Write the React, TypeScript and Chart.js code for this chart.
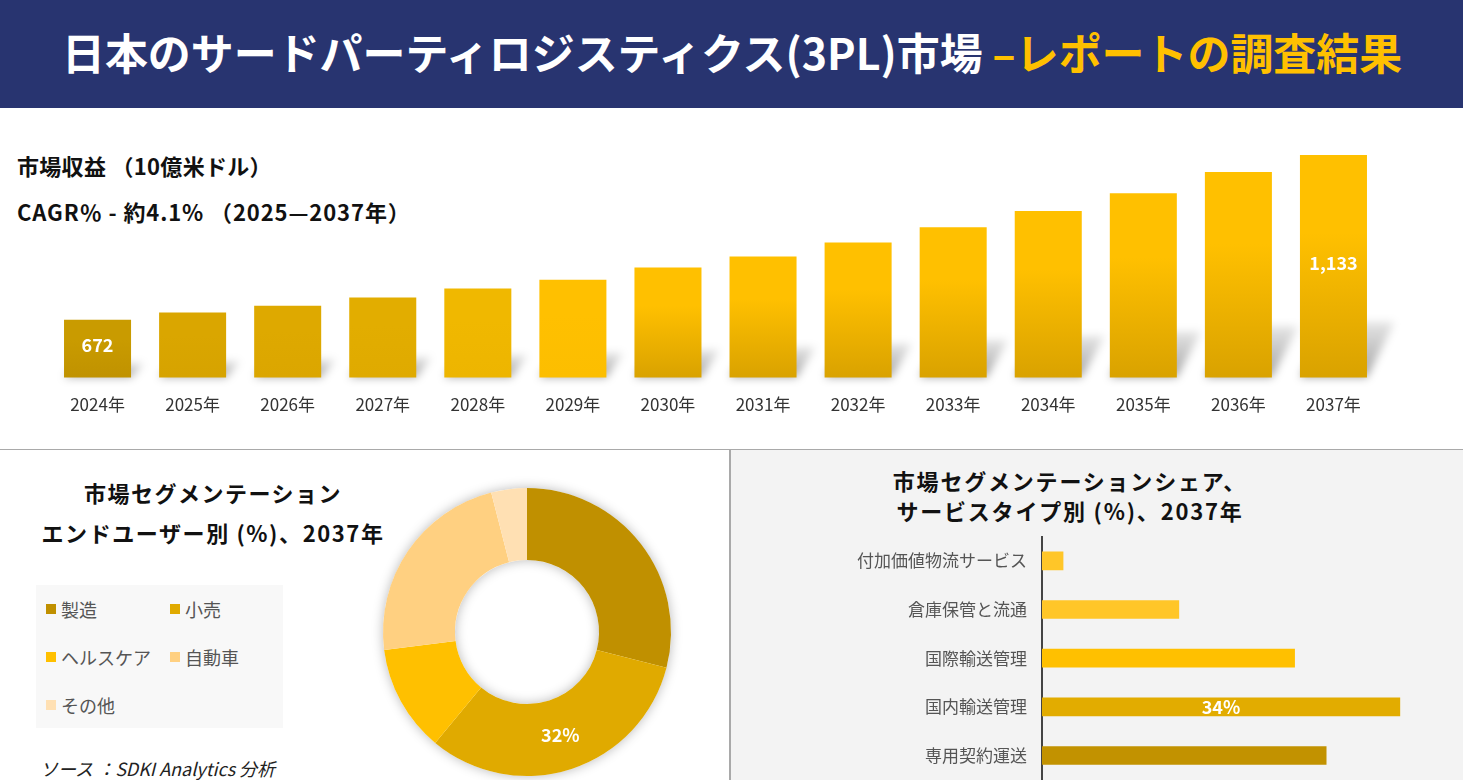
import React, { useEffect, useLayoutEffect, useRef } from "react";
import { Chart, registerables } from "chart.js";

Chart.register(...registerables);

// ---------- DATA ----------
const years = ["2024年", "2025年", "2026年", "2027年", "2028年", "2029年", "2030年", "2031年", "2032年", "2033年", "2034年", "2035年", "2036年", "2037年"];
const revenue = [672, 692, 711, 734, 759, 784, 818, 849, 888, 931, 976, 1026, 1085, 1133];
const revenueLabelShown = [true, false, false, false, false, false, false, false, false, false, false, false, false, true];

const endUserLabels = ["製造", "小売", "ヘルスケア", "自動車", "その他"];
const endUserShares = [29, 32, 12, 23, 4];
const endUserLabelShown = [false, true, false, false, false];

const serviceLabels = ["付加価値物流サービス", "倉庫保管と流通", "国際輸送管理", "国内輸送管理", "専用契約運送"];
const serviceShares = [2, 13, 24, 34, 27];
const serviceLabelShown = [false, false, false, true, false];

// ---------- STYLES ----------
const FONT = "'Noto Sans CJK JP', 'Noto Sans', sans-serif";
const barTopColors = ["#C99B00", "#DAA600", "#DEA900", "#E2AD00", "#F0B800", "#FFC000", "#FFC000", "#FFC000", "#FFC000", "#FFC000", "#FFC000", "#FFC000", "#FFC000", "#FFC000"];
const barBottomColors = ["#C09200", "#D6A300", "#DBA600", "#DFAA00", "#EDB500", "#FCBE00", "#D9A200", "#D9A200", "#D9A200", "#D9A200", "#D9A200", "#D9A200", "#D9A200", "#D9A200"];
const donutColors = ["#C09000", "#E0AA00", "#FFC000", "#FFD081", "#FFE0B3"];
const serviceColors = ["#FFC628", "#FFC628", "#FFC000", "#E2AC00", "#C29200"];

const barShadowPlugin = {
  id: "barShadow",
  beforeDatasetsDraw(chart: any) {
    const ctx = chart.ctx;
    const area = chart.chartArea;
    const meta = chart.getDatasetMeta(0);
    ctx.save();
    ctx.filter = "blur(4px)";
    meta.data.forEach((el: any) => {
      const { x, y, width } = el.getProps(["x", "y", "width"], true);
      const base = area.bottom;
      const h = base - y;
      const sh = h * 0.25;
      const sx = sh * 0.35 + 8;
      const l = x - width / 2;
      const r = x + width / 2;
      const g = ctx.createLinearGradient(0, base, 0, base - sh);
      g.addColorStop(0, "rgba(0,0,0,0.36)");
      g.addColorStop(1, "rgba(0,0,0,0.10)");
      ctx.fillStyle = g;
      ctx.beginPath();
      ctx.moveTo(l, base);
      ctx.lineTo(r, base);
      ctx.lineTo(r + sx, base - sh);
      ctx.lineTo(l + sx, base - sh);
      ctx.closePath();
      ctx.fill();
    });
    ctx.restore();
  },
  afterDatasetsDraw(chart: any) {
    const ctx = chart.ctx;
    const area = chart.chartArea;
    const meta = chart.getDatasetMeta(0);
    ctx.save();
    ctx.fillStyle = "#FFFFFF";
    ctx.font = `bold 18px ${FONT}`;
    ctx.textAlign = "center";
    ctx.textBaseline = "middle";
    meta.data.forEach((el: any, i: number) => {
      if (!revenueLabelShown[i]) return;
      const { x, y } = el.getProps(["x", "y"], true);
      ctx.fillText(revenue[i].toLocaleString("en-US"), x, (y + area.bottom) / 2 - 3);
    });
    ctx.restore();
  },
};

const donutPlugin = {
  id: "donutDeco",
  beforeDatasetsDraw(chart: any) {
    const el: any = chart.getDatasetMeta(0).data[0];
    if (!el) return;
    const ctx = chart.ctx;
    ctx.save();
    ctx.shadowColor = "rgba(0,0,0,0.28)";
    ctx.shadowBlur = 12;
    ctx.fillStyle = "#ffffff";
    ctx.beginPath();
    ctx.arc(el.x, el.y, el.outerRadius, 0, Math.PI * 2);
    ctx.arc(el.x, el.y, el.innerRadius, 0, Math.PI * 2, true);
    ctx.fill();
    ctx.restore();
  },
  afterDatasetsDraw(chart: any) {
    const ctx = chart.ctx;
    ctx.save();
    ctx.fillStyle = "#FFFFFF";
    ctx.font = `bold 18px ${FONT}`;
    ctx.textAlign = "center";
    ctx.textBaseline = "middle";
    chart.getDatasetMeta(0).data.forEach((el: any, i: number) => {
      if (!endUserLabelShown[i]) return;
      const p = el.tooltipPosition();
      ctx.fillText(endUserShares[i] + "%", p.x, p.y);
    });
    ctx.restore();
  },
};

const hbarPlugin = {
  id: "hbarLabels",
  afterDatasetsDraw(chart: any) {
    const ctx = chart.ctx;
    ctx.save();
    ctx.fillStyle = "#FFFFFF";
    ctx.font = `bold 18px ${FONT}`;
    ctx.textAlign = "center";
    ctx.textBaseline = "middle";
    chart.getDatasetMeta(0).data.forEach((el: any, i: number) => {
      if (!serviceLabelShown[i]) return;
      const { x, y, base } = el.getProps(["x", "y", "base"], true);
      ctx.fillText(serviceShares[i] + "%", (x + base) / 2, y);
    });
    ctx.restore();
  },
};

export default function App() {
  const barRef = useRef<HTMLCanvasElement>(null);
  const donutRef = useRef<HTMLCanvasElement>(null);
  const hbarRef = useRef<HTMLCanvasElement>(null);
  const titleRef = useRef<HTMLSpanElement>(null);

  useLayoutEffect(() => {
    const t = titleRef.current;
    if (t) {
      const w = t.offsetWidth;
      if (w > 0) t.style.transform = `scaleX(${1340 / w})`;
    }
  }, []);

  useEffect(() => {
    const charts: Chart[] = [];

    charts.push(
      new Chart(barRef.current!, {
        type: "bar",
        data: {
          labels: years,
          datasets: [
            {
              data: revenue,
              backgroundColor: (c: any) => {
                const chart = c.chart;
                const area = chart.chartArea;
                const i = c.dataIndex;
                if (i == null) return barTopColors[0];
                if (!area || !chart.scales.y) return barTopColors[i];
                const yTop = chart.scales.y.getPixelForValue(revenue[i]);
                const g = chart.ctx.createLinearGradient(0, yTop, 0, area.bottom);
                g.addColorStop(0, barTopColors[i]);
                g.addColorStop(0.35, barTopColors[i]);
                g.addColorStop(1, barBottomColors[i]);
                return g;
              },
              borderWidth: 0,
              categoryPercentage: 1,
              barPercentage: 0.705,
            },
          ],
        },
        options: {
          responsive: false,
          animation: false,
          events: [],
          layout: { padding: { left: 50, right: 82, top: 21, bottom: 8 } },
          plugins: { legend: { display: false }, tooltip: { enabled: false } },
          scales: {
            x: {
              grid: { display: false, drawTicks: false },
              border: { display: false },
              ticks: { color: "#333", font: { family: FONT, size: 17 }, padding: 17 },
            },
            y: { display: false, min: 510, max: 1200 },
          },
        },
        plugins: [barShadowPlugin],
      } as any)
    );

    charts.push(
      new Chart(donutRef.current!, {
        type: "doughnut",
        data: {
          labels: endUserLabels,
          datasets: [{ data: endUserShares, backgroundColor: donutColors, borderWidth: 0 }],
        },
        options: {
          responsive: false,
          animation: false,
          events: [],
          cutout: "50%",
          layout: { padding: 21 },
          plugins: { legend: { display: false }, tooltip: { enabled: false } },
        },
        plugins: [donutPlugin],
      } as any)
    );

    charts.push(
      new Chart(hbarRef.current!, {
        type: "bar",
        data: {
          labels: serviceLabels,
          datasets: [{ data: serviceShares, backgroundColor: serviceColors, borderWidth: 0, barThickness: 18 }],
        },
        options: {
          indexAxis: "y",
          responsive: false,
          animation: false,
          events: [],
          layout: { padding: { left: 0, right: 0, top: 86.5, bottom: 8.5 } },
          plugins: { legend: { display: false }, tooltip: { enabled: false } },
          scales: {
            x: { display: false, min: 0, max: 40 },
            y: {
              grid: { display: false, drawTicks: false },
              border: { display: true, color: "#444", width: 2 },
              ticks: { color: "#555", font: { family: FONT, size: 17 }, padding: 15 },
              afterFit: (s: any) => {
                s.width = 311;
              },
            },
          },
        },
        plugins: [hbarPlugin],
      } as any)
    );

    return () => charts.forEach((c) => c.destroy());
  }, []);

  const boldTitle: React.CSSProperties = {
    position: "absolute",
    fontFamily: FONT,
    fontWeight: 700,
    color: "#111",
    whiteSpace: "nowrap",
  };

  return (
    <div
      style={{
        position: "absolute",
        left: 0,
        top: 0,
        width: 1463,
        height: 780,
        overflow: "hidden",
        background: "#fff",
        fontFamily: FONT,
      }}
    >
      {/* Header */}
      <div
        style={{
          position: "absolute",
          left: 0,
          top: 0,
          width: 1463,
          height: 108,
          background: "#283470",
        }}
      >
        <div style={{ position: "absolute", left: 62, top: 21, height: 60, lineHeight: "60px", whiteSpace: "nowrap" }}>
          <span
            ref={titleRef}
            style={{
              display: "inline-block",
              transformOrigin: "0 50%",
              fontSize: 43,
              fontWeight: 700,
              color: "#fff",
              fontFamily: FONT,
            }}
          >
            日本のサードパーティロジスティクス(3PL)市場 <span style={{ color: "#FFC000" }}>–レポートの調査結果</span>
          </span>
        </div>
      </div>

      {/* Revenue texts */}
      <div style={{ ...boldTitle, left: 17, top: 150, fontSize: 22, lineHeight: "30px", letterSpacing: 0.3 }}>市場収益 （10億米ドル）</div>
      <div style={{ ...boldTitle, left: 17, top: 196, fontSize: 22, lineHeight: "30px", letterSpacing: 0.9 }}>CAGR％ - 約4.1% （2025—2037年）</div>

      <canvas ref={barRef} width={1463} height={330} style={{ position: "absolute", left: 0, top: 110 }} />

      {/* Dividers & right panel */}
      <div style={{ position: "absolute", left: 0, top: 449, width: 1463, height: 1, background: "#A9A9A9" }} />
      <div style={{ position: "absolute", left: 730, top: 450, width: 733, height: 330, background: "#F3F3F3" }} />
      <div style={{ position: "absolute", left: 729, top: 450, width: 2, height: 330, background: "#A9A9A9" }} />

      {/* Left bottom */}
      <div style={{ ...boldTitle, left: 0, width: 426, textAlign: "center", top: 477, fontSize: 22, lineHeight: "30px", letterSpacing: 1.5 }}>
        市場セグメンテーション
      </div>
      <div style={{ ...boldTitle, left: 0, width: 426, textAlign: "center", top: 517, fontSize: 22, lineHeight: "30px", letterSpacing: 1.6 }}>
        エンドユーザー別 (%)、2037年
      </div>

      <div style={{ position: "absolute", left: 36, top: 585, width: 247, height: 143, background: "#F8F8F8" }} />
      {endUserLabels.map((lab, i) => {
        const col = i % 2;
        const row = Math.floor(i / 2);
        const x = col === 0 ? 46 : 170;
        const y = 609 + row * 48;
        return (
          <div key={lab} style={{ position: "absolute", left: x, top: y - 12, height: 24, display: "flex", alignItems: "center", whiteSpace: "nowrap" }}>
            <span style={{ display: "inline-block", width: 10, height: 10, background: donutColors[i], marginRight: 5 }} />
            <span style={{ fontSize: 18, color: "#555", fontFamily: FONT }}>{lab}</span>
          </div>
        );
      })}

      <div style={{ position: "absolute", left: 40, top: 755, fontSize: 18, lineHeight: "26px", color: "#222", fontStyle: "italic", whiteSpace: "nowrap", fontFamily: FONT }}>
        ソース ：SDKI Analytics 分析
      </div>

      <canvas ref={donutRef} width={330} height={330} style={{ position: "absolute", left: 362, top: 467 }} />

      {/* Right bottom */}
      <div style={{ ...boldTitle, left: 730, width: 680, textAlign: "center", top: 465, fontSize: 22, lineHeight: "30px", letterSpacing: 1.8 }}>
        市場セグメンテーションシェア、
      </div>
      <div style={{ ...boldTitle, left: 730, width: 680, textAlign: "center", top: 495, fontSize: 22, lineHeight: "30px", letterSpacing: 1.8 }}>
        サービスタイプ別 (%)、2037年
      </div>

      <canvas ref={hbarRef} width={732} height={355} style={{ position: "absolute", left: 731, top: 450 }} />
    </div>
  );
}
